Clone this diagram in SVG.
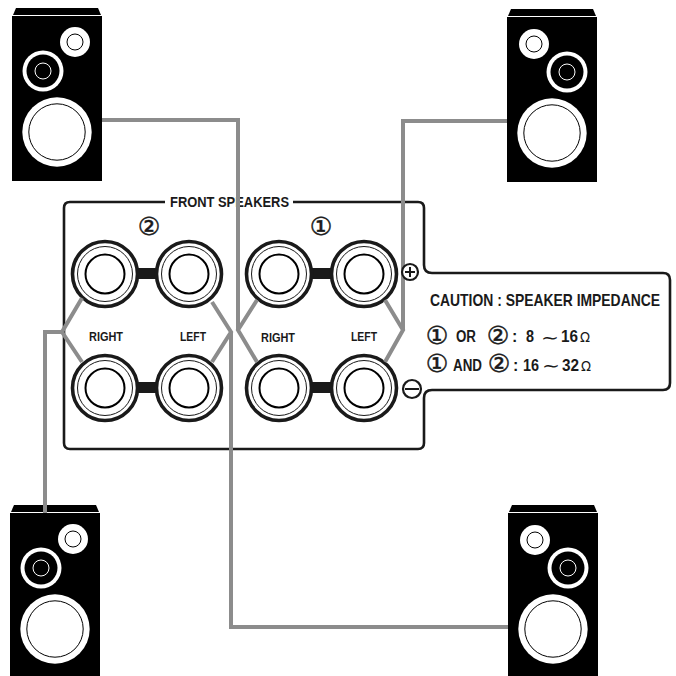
<svg xmlns="http://www.w3.org/2000/svg" width="676" height="676" viewBox="0 0 676 676">
<style>
text{font-family:"Liberation Sans",Arial,sans-serif;font-weight:bold;fill:#1a1a1a}
.n{font-family:"DejaVu Sans",sans-serif;font-weight:normal;font-size:25px;text-anchor:middle;stroke:#1a1a1a;stroke-width:.5}
.g{font-family:"DejaVu Sans",sans-serif;font-weight:normal}
.k{fill:#000}.w{fill:#fff}
.wr{fill:none;stroke:#8c8c8c;stroke-width:4;stroke-linejoin:miter}
.pn{fill:none;stroke:#1a1a1a;stroke-width:2.6}
.to{fill:#fff;stroke:#1a1a1a;stroke-width:3.6}
.tm{fill:#fff;stroke:#1a1a1a;stroke-width:1}
.ti{fill:#fff;stroke:#000;stroke-width:2}
.br{fill:#1a1a1a}
.sg{fill:#fff;stroke:#1a1a1a;stroke-width:2.2}
.sy{fill:none;stroke:#1a1a1a;stroke-width:2}
</style>
<defs>
<g id="cone">
<path class="k" d="M1-1L4-8H86L89-1Z"/>
<rect class="k" width="90" height="165"/>
<circle class="w" cx="45" cy="116" r="34.7"/>
<circle cx="45" cy="116" r="28.2" fill="#fff" stroke="#000" stroke-width="1"/>
</g>
<g id="spkA">
<use href="#cone"/>
<circle class="w" cx="63" cy="26" r="15"/>
<circle cx="63" cy="26" r="8" fill="#fff" stroke="#000" stroke-width="1"/>
<circle class="w" cx="31" cy="55" r="20.5"/>
<circle class="k" cx="31" cy="55" r="16.5"/>
<circle cx="31" cy="55" r="8" fill="#000" stroke="#fff" stroke-width="1"/>
</g>
<g id="spkB">
<use href="#cone"/>
<circle class="w" cx="27" cy="27" r="15"/>
<circle cx="27" cy="27" r="8" fill="#fff" stroke="#000" stroke-width="1"/>
<circle class="w" cx="60" cy="55" r="20.5"/>
<circle class="k" cx="60" cy="55" r="16.5"/>
<circle cx="60" cy="55" r="8" fill="#000" stroke="#fff" stroke-width="1"/>
</g>
<g id="jack">
<circle class="to" r="32.5"/>
<circle class="tm" r="27.5"/>
<circle class="ti" r="19.5"/>
</g>
</defs>

<g id="panel">
<path class="pn" d="M165 202H70Q64 202 64 208V443Q64 449 70 449H418Q424 449 424 443V398Q424 390 432 390H663Q670 390 670 383V280Q670 273 663 273H432Q424 273 424 265V208Q424 202 418 202H293"/>
<text x="170" y="207" font-size="14.5" textLength="119" lengthAdjust="spacingAndGlyphs">FRONT SPEAKERS</text>
<text class="n" x="149" y="235">②</text>
<text class="n" x="321" y="235">①</text>
</g>

<g id="terminals-2">
<rect class="br" x="135" y="268" width="24" height="11"/>
<rect class="br" x="135" y="382" width="24" height="11"/>
<use href="#jack" x="105" y="274"/>
<use href="#jack" x="189" y="274"/>
<use href="#jack" x="105" y="388"/>
<use href="#jack" x="189" y="388"/>
<text x="89" y="341" font-size="12.5" textLength="34" lengthAdjust="spacingAndGlyphs">RIGHT</text>
<text x="180" y="341" font-size="12.5" textLength="26" lengthAdjust="spacingAndGlyphs">LEFT</text>
</g>
<g id="terminals-1">
<rect class="br" x="309" y="268" width="24" height="11"/>
<rect class="br" x="309" y="382" width="24" height="11"/>
<use href="#jack" x="279" y="274"/>
<use href="#jack" x="364" y="274"/>
<use href="#jack" x="279" y="388"/>
<use href="#jack" x="364" y="388"/>
<text x="261" y="342" font-size="12.5" textLength="34" lengthAdjust="spacingAndGlyphs">RIGHT</text>
<text x="351" y="341" font-size="12.5" textLength="26" lengthAdjust="spacingAndGlyphs">LEFT</text>
</g>

<g id="speaker-top-left"><use href="#spkA" x="12" y="16"/></g>
<g id="speaker-top-right"><use href="#spkB" x="507" y="17"/></g>
<g id="speaker-bottom-left"><use href="#spkA" x="10" y="513"/></g>
<g id="speaker-bottom-right"><use href="#spkB" x="508" y="513"/></g>

<g id="connectors">
<path class="wr" d="M102 120H238V330M257 300L238 330L257 362"/>
<path class="wr" d="M507 121H403V330M385 300L403 330L385 362"/>
<path class="wr" d="M45 513V332H62M82 298L62 332L82 362"/>
<path class="wr" d="M508 627H231V332M212 302L231 332L212 362"/>
</g>

<g id="polarity">
<circle class="sg" cx="410" cy="272" r="8"/>
<path class="sy" d="M405 272H415M410 267V277"/>
<circle class="sg" cx="412" cy="389" r="9"/>
<path class="sy" d="M405 389H419"/>
</g>

<g id="caution">
<text transform="translate(430 306) scale(.818 1)" font-size="17">CAUTION : SPEAKER IMPEDANCE</text>
<text class="n" x="437" y="344">①</text>
<text x="456" y="342" font-size="16" textLength="20" lengthAdjust="spacingAndGlyphs">OR</text>
<text class="n" x="498" y="344">②</text>
<text x="512" y="342" font-size="16">:</text>
<text x="526" y="342" font-size="16" textLength="8" lengthAdjust="spacingAndGlyphs">8</text>
<text class="g" x="541" y="344" font-size="18" textLength="18" lengthAdjust="spacingAndGlyphs">∼</text>
<text x="561" y="342" font-size="16" textLength="17" lengthAdjust="spacingAndGlyphs">16</text>
<text class="g" x="580" y="342" font-size="14" textLength="10" lengthAdjust="spacingAndGlyphs">Ω</text>
<text class="n" x="437" y="372">①</text>
<text x="453" y="371" font-size="16" textLength="29" lengthAdjust="spacingAndGlyphs">AND</text>
<text class="n" x="499" y="372">②</text>
<text x="513" y="371" font-size="16">:</text>
<text x="523" y="371" font-size="16" textLength="16" lengthAdjust="spacingAndGlyphs">16</text>
<text class="g" x="542" y="372" font-size="18" textLength="18" lengthAdjust="spacingAndGlyphs">∼</text>
<text x="562" y="371" font-size="16" textLength="17" lengthAdjust="spacingAndGlyphs">32</text>
<text class="g" x="581" y="371" font-size="14" textLength="10" lengthAdjust="spacingAndGlyphs">Ω</text>
</g>
</svg>
